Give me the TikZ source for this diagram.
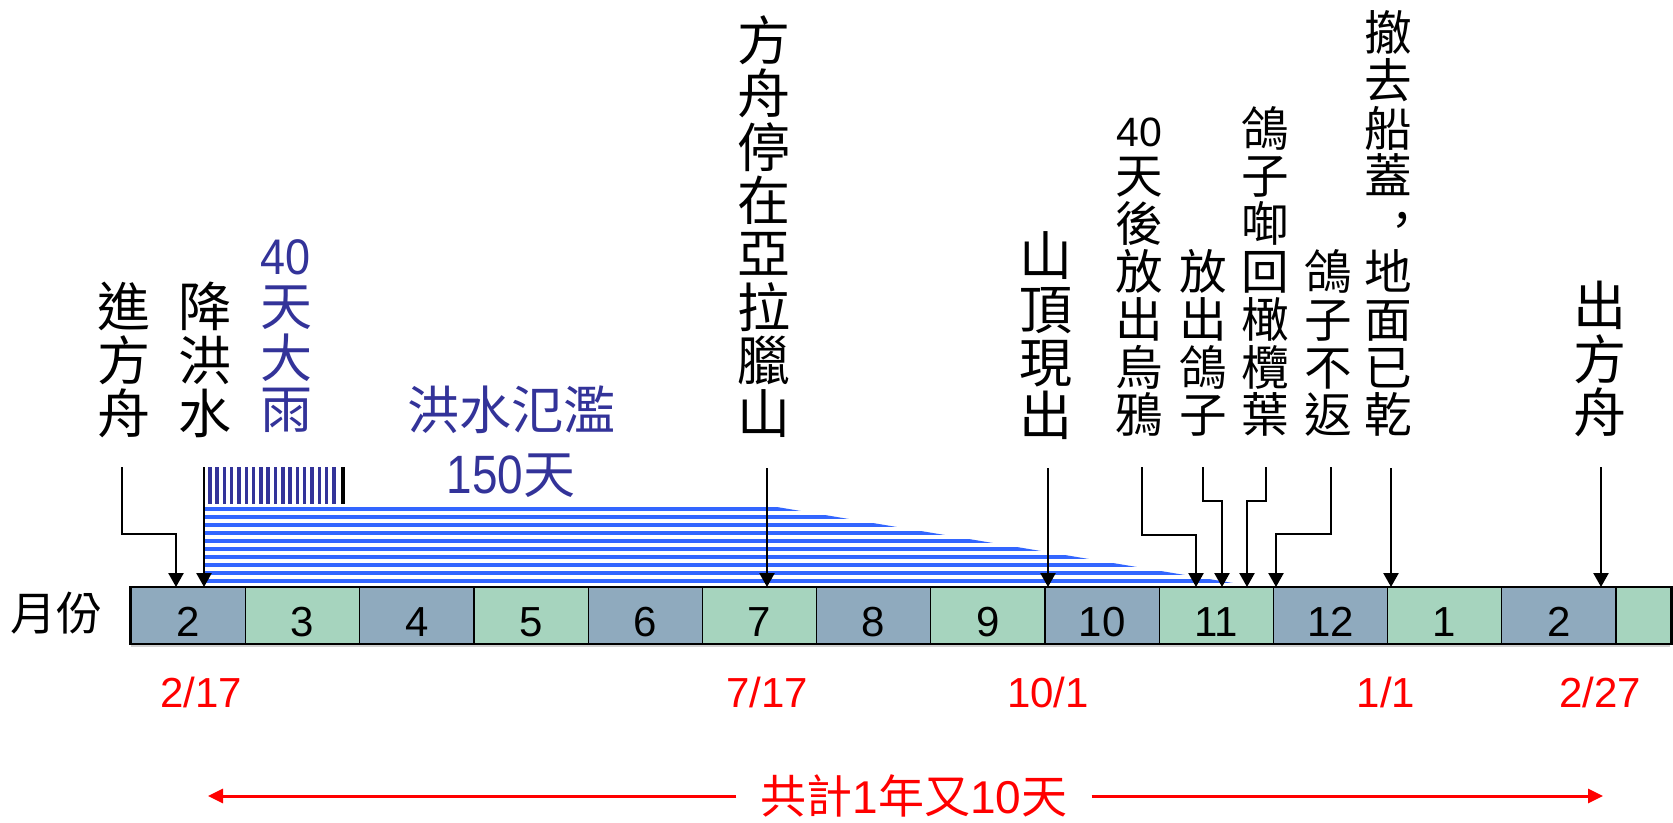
\documentclass[tikz,border=0pt]{standalone}
\usepackage{fontspec}
\usepackage{graphicx}
\setmainfont{Liberation Sans}
\newfontfamily\cjk{Noto Sans CJK TC}
\newfontfamily\lat{Liberation Sans}
\usetikzlibrary{arrows.meta}
\definecolor{cellb}{HTML}{8FAABE}
\definecolor{cellg}{HTML}{A6D4BE}
\definecolor{rain}{HTML}{333399}
\definecolor{flood}{HTML}{3366FF}
\begin{document}
\begin{tikzpicture}[x=1pt,y=-1pt,
  vlab/.style={anchor=south,inner sep=0pt,align=center,font=\cjk\fontsize{53}{53.3}\selectfont},
  vlabs/.style={anchor=south,inner sep=0pt,align=center,font=\cjk\fontsize{47.6}{47.8}\selectfont},
  arr/.style={line width=2.5pt,-{Triangle[width=15pt,length=14pt]}},
  cellbox/.style={draw=black,line width=1.2pt,minimum width=114.2pt,minimum height=56pt,inner sep=0pt,anchor=north west},
  num/.style={anchor=base,inner sep=0pt,font=\lat\fontsize{42}{42}\selectfont},
  datelab/.style={anchor=base,inner sep=0pt,text=red,font=\lat\fontsize{42}{42}\selectfont},
  redarr/.style={red,line width=3pt,-{Triangle[width=14pt,length=15pt]}}
]
\useasboundingbox (0,0) rectangle (1673,822);

% flood stripes
\begin{scope}
\clip (204,500) -- (735,500) -- (1275,590) -- (204,590) -- cycle;
\foreach \k in {0,...,9} \fill[flood] (204,506.7+8.07*\k) rectangle (1300,510.7+8.07*\k);
\end{scope}
% rain stripes
\foreach \k in {0,...,17} \fill[rain] (208+7.3*\k,467) rectangle (211.5+7.3*\k,504);
\fill[black] (341,467) rectangle (344.5,504);

% month bar
\fill[gray!35] (131,643) rectangle (1670,647);
\foreach \i/\m/\c in {1/2/cellb,2/3/cellg,3/4/cellb,4/5/cellg,5/6/cellb,6/7/cellg,7/8/cellb,8/9/cellg,9/10/cellb,10/11/cellg,11/12/cellb,12/1/cellg,13/2/cellb}{
  \node[cellbox,fill=\c] (m\i) at (130.7+114.2*\i-114.2,587) {};
  \node[num] (n\i) at ([yshift=-21pt]m\i.center) {\m};
}
\node[cellbox,fill=cellg,minimum width=55pt] (m14) at (1615.3,587) {};
\draw[line width=2.5pt] (m1.north west) rectangle (m14.south east);
\node[font=\cjk\fontsize{46}{46}\selectfont,inner sep=0pt] (yf) at (56,613) {月份};

% labels
\node[vlab] (l1) at (124,438) {進\\方\\舟};
\node[vlab] (l2) at (205,438) {降\\洪\\水};
\node[vlab,text=rain,font=\cjk\fontsize{52}{51.5}\selectfont] (l3) at (286,433) {{\lat\fontsize{50}{51.5}\selectfont\scalebox{0.9}[1]{40}}\\天\\大\\雨};
\node[inner sep=0pt,text=rain,font=\cjk\fontsize{52}{52}\selectfont] (fl) at (511,410) {洪水氾濫};
\node[anchor=base,inner sep=0pt,text=rain,font=\cjk\fontsize{52}{52}\selectfont] (fd) at (511,493) {{\lat\fontsize{54}{54}\selectfont\scalebox{0.85}[1]{150}}天};
\node[vlab] (l4) at (764,438) {方\\舟\\停\\在\\亞\\拉\\臘\\山};
\node[vlab] (l5) at (1046,440) {山\\頂\\現\\出};
\node[vlabs] (l6) at (1139,437) {{\lat\fontsize{41}{47.8}\selectfont 40}\\天\\後\\放\\出\\烏\\鴉};
\node[vlabs] (l7) at (1203,437) {放\\出\\鴿\\子};
\node[vlabs] (l8) at (1265,437) {鴿\\子\\啣\\回\\橄\\欖\\葉};
\node[vlabs] (l9) at (1328,437) {鴿\\子\\不\\返};
\node[vlabs] (l10) at (1388,437) {撤\\去\\船\\蓋\\\raisebox{0.1em}{\hspace*{0.6em}，}\\地\\面\\已\\乾};
\node[vlab] (l11) at (1600,437) {出\\方\\舟};

% arrow start and end points
\coordinate (s1) at (122,467);  \coordinate (e1) at (176,587);
\coordinate (s2) at (204,467);  \coordinate (e2) at (204,587);
\coordinate (s4) at (767,468);  \coordinate (e4) at (767,587);
\coordinate (s5) at (1048,468); \coordinate (e5) at (1048,587);
\coordinate (s6) at (1142,467); \coordinate (e6) at (1196,587);
\coordinate (s7) at (1203,467); \coordinate (e7) at (1222,587);
\coordinate (s8) at (1266,467); \coordinate (e8) at (1247,587);
\coordinate (s9) at (1331,467); \coordinate (e9) at (1276,587);
\coordinate (s10) at (1391,468); \coordinate (e10) at (1391,587);
\coordinate (s11) at (1601,467); \coordinate (e11) at (1601,587);

\draw[arr] (s1) -- ++(0,67) -| (e1);
\draw[arr] (s2) -- (e2);
\draw[arr] (s4) -- (e4);
\draw[arr] (s5) -- (e5);
\draw[arr] (s6) -- ++(0,68) -| (e6);
\draw[arr] (s7) -- ++(0,34) -| (e7);
\draw[arr] (s8) -- ++(0,34) -| (e8);
\draw[arr] (s9) -- ++(0,67) -| (e9);
\draw[arr] (s10) -- (e10);
\draw[arr] (s11) -- (e11);

% dates
\node[datelab] (d1) at (201,707) {2/17};
\node[datelab] (d2) at (767,707) {7/17};
\node[datelab] (d3) at (1048,707) {10/1};
\node[datelab] (d4) at (1386,707) {1/1};
\node[datelab] (d5) at (1600,707) {2/27};

% total
\node[inner ysep=0pt,inner xsep=24pt,text=red,font=\cjk\fontsize{46}{46}\selectfont] (tot) at (914,796) {共計{\lat 1}年又{\lat 10}天};
\coordinate (tl) at (208,795);
\coordinate (tr) at (1603,795);
\draw[redarr] (tot.west) -- (tot.west -| tl);
\draw[redarr] (tot.east) -- (tot.east -| tr);
\end{tikzpicture}
\end{document}
